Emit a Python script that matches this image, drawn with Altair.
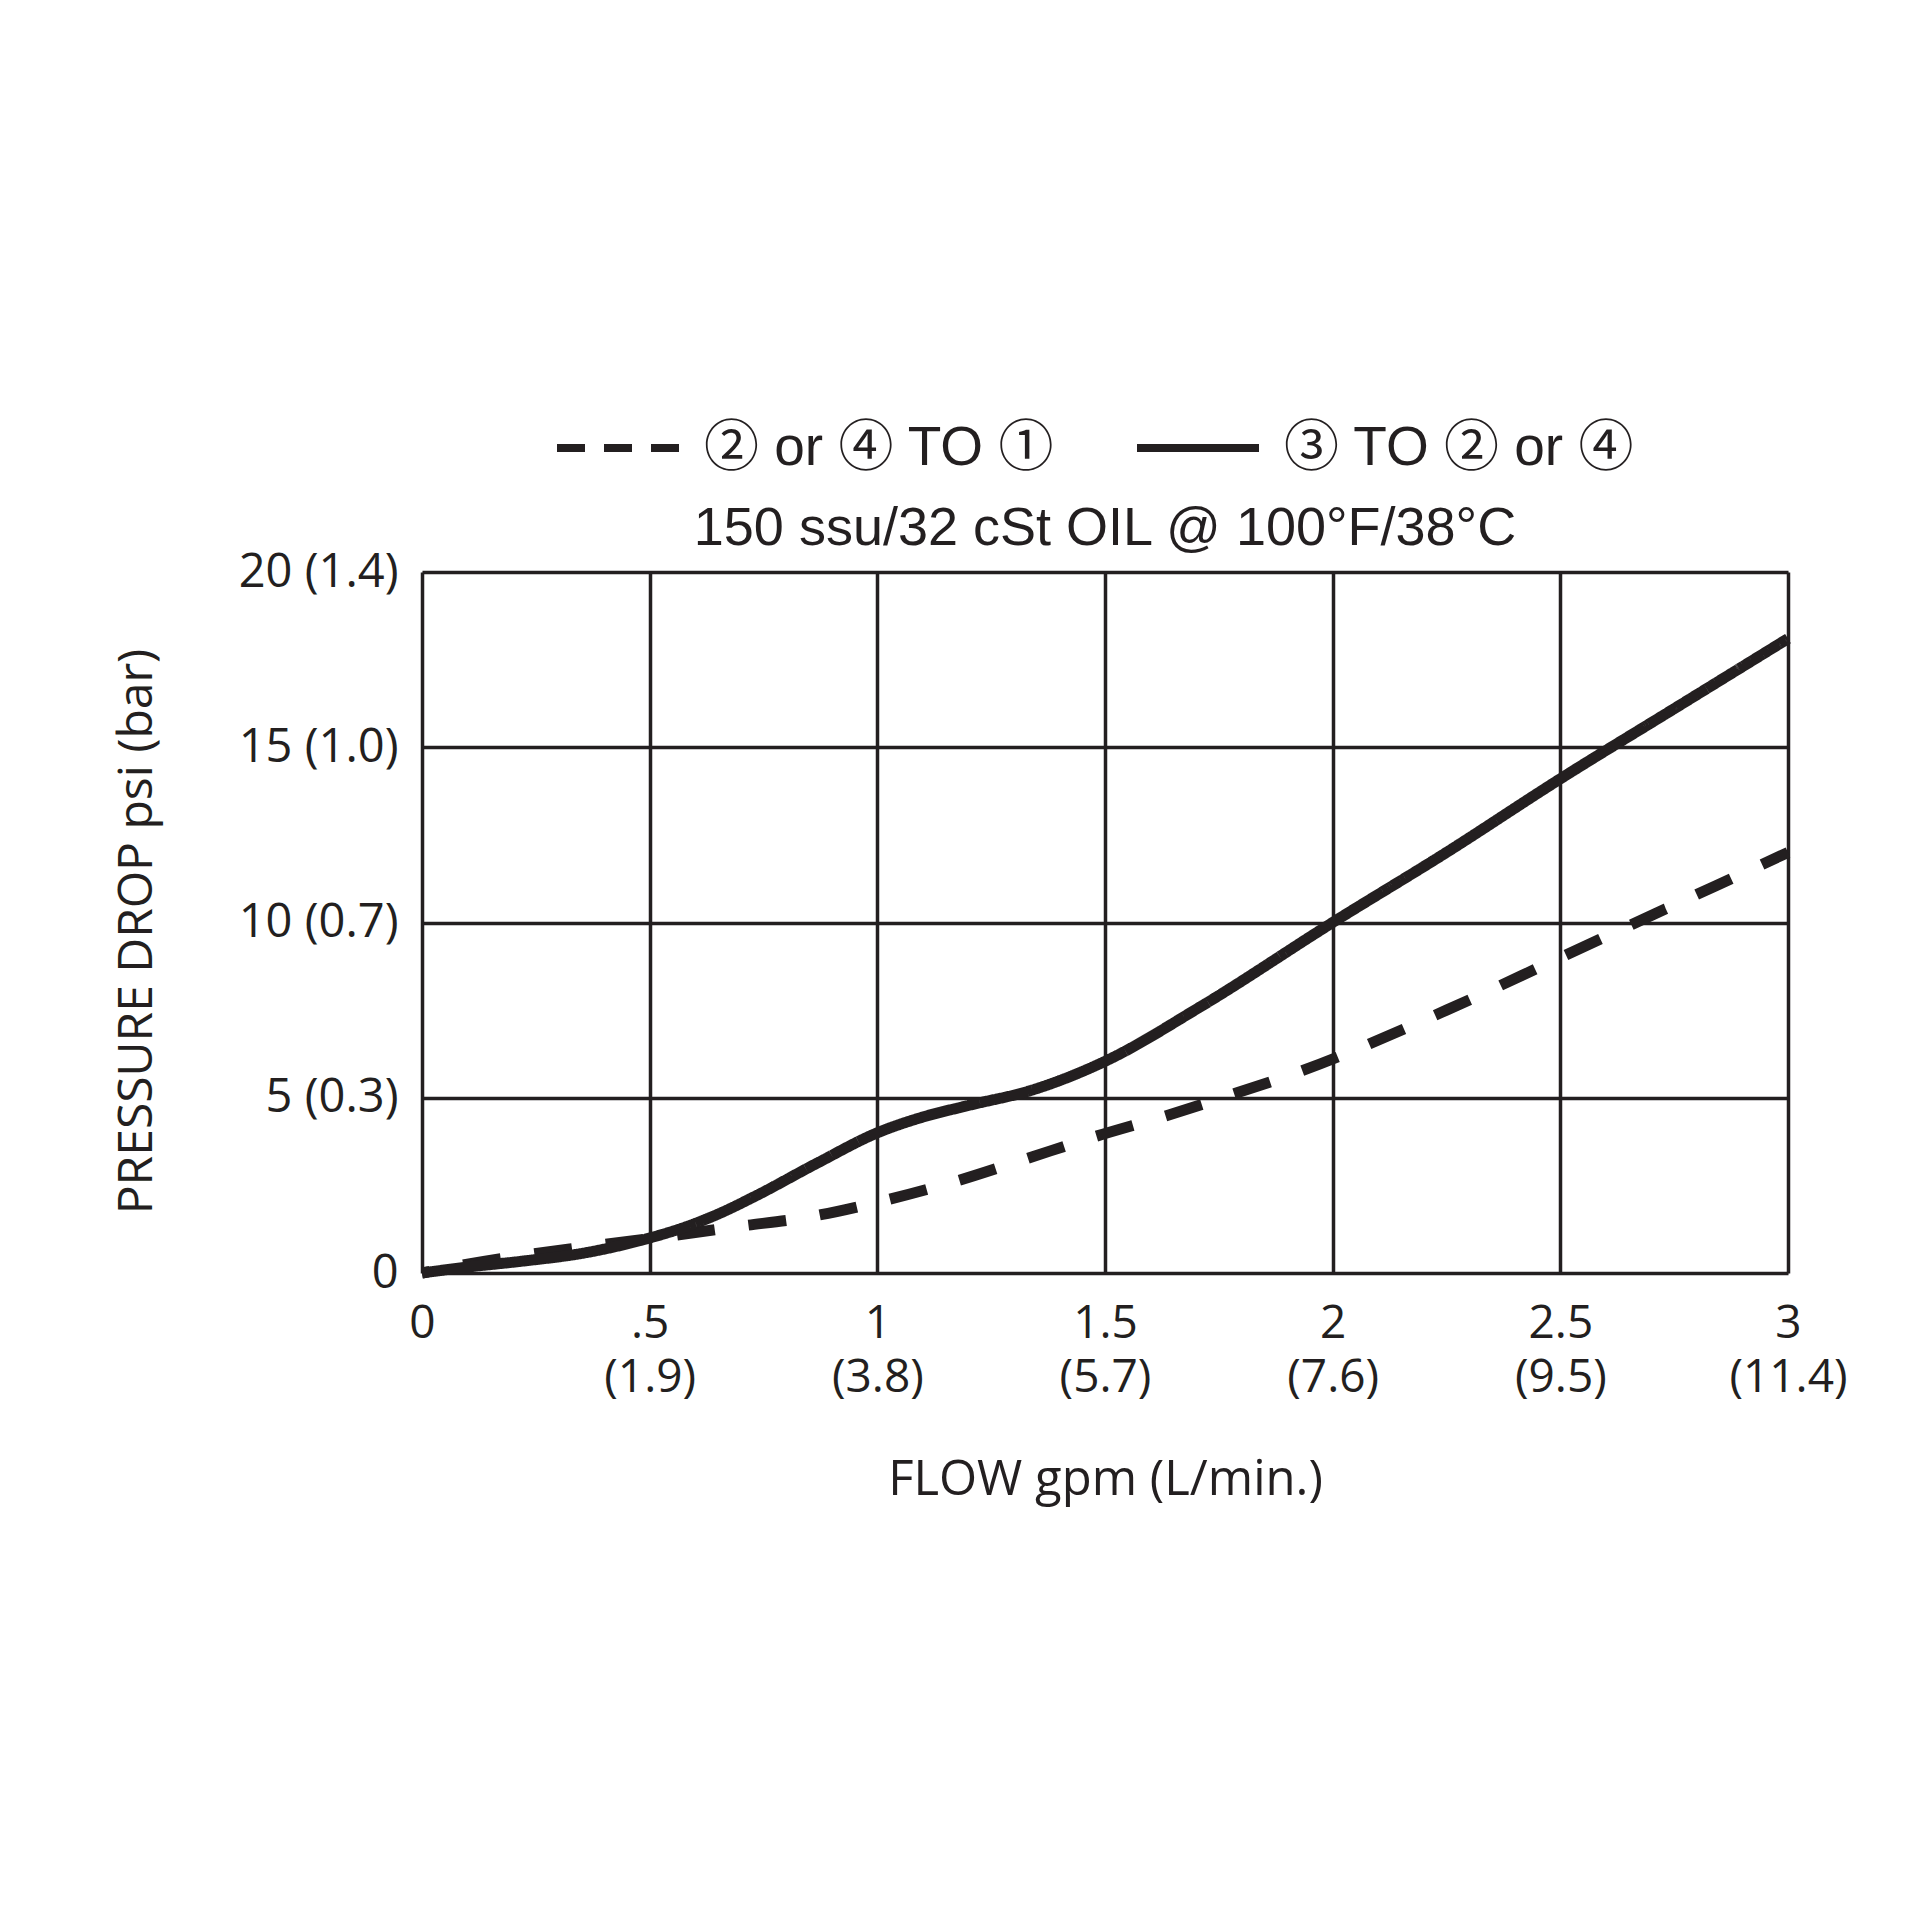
import altair as alt
import pandas as pd

# ---- data ----
series_names = ["② or ④ TO ①", "③ TO ② or ④"]

dashed_flow = [0, 0.1, 0.36, 0.56, 0.69, 0.85, 1.0, 1.17, 1.32, 1.48, 1.64, 1.79, 1.92, 2.25, 2.5, 2.75, 3.0]
dashed_psi = [0, 0.25, 0.75, 1.08, 1.32, 1.6, 2.02, 2.61, 3.23, 3.9, 4.51, 5.14, 5.71, 7.5, 9.0, 10.5, 12.0]

solid_flow = [0, 0.1, 0.215, 0.36, 0.5, 0.58, 0.65, 0.73, 0.87, 1.0, 1.1, 1.2, 1.34, 1.5, 1.71, 2.0, 2.25, 2.5, 2.75, 3.0]
solid_psi = [0, 0.17, 0.33, 0.58, 1.0, 1.32, 1.68, 2.18, 3.15, 4.0, 4.45, 4.78, 5.22, 6.04, 7.6, 10.0, 12.0, 14.1, 16.1, 18.1]

x_ticks = [0, 0.5, 1, 1.5, 2, 2.5, 3]
x_gpm_labels = ["0", ".5", "1", "1.5", "2", "2.5", "3"]
x_lpm_labels = ["", "(1.9)", "(3.8)", "(5.7)", "(7.6)", "(9.5)", "(11.4)"]

y_ticks = [0, 5, 10, 15, 20]
y_psi_labels = ["0", "5", "10", "15", "20"]
y_bar_labels = ["", "(0.3)", "(0.7)", "(1.0)", "(1.4)"]

subtitle = "150 ssu/32 cSt OIL @ 100°F/38°C"
x_title = "FLOW gpm (L/min.)"
y_title = "PRESSURE DROP psi (bar)"

# ---- table ----
rows = []
for f, p in zip(dashed_flow, dashed_psi):
    rows.append({"flow": f, "psi": p, "series": series_names[0]})
for f, p in zip(solid_flow, solid_psi):
    rows.append({"flow": f, "psi": p, "series": series_names[1]})
df = pd.DataFrame(rows)

# label expressions
def x_expr():
    parts = []
    for v, a, b in zip(x_ticks, x_gpm_labels, x_lpm_labels):
        lab = f"['{a}']" if b == "" else f"['{a}', '{b}']"
        parts.append(f"datum.value == {v} ? {lab} : ")
    return "".join(parts) + "''"

def y_expr():
    parts = []
    for v, a, b in zip(y_ticks, y_psi_labels, y_bar_labels):
        lab = f"'{a}'" if b == "" else f"'{a} {b}'"
        parts.append(f"datum.value == {v} ? {lab} : ")
    return "".join(parts) + "''"

INK = "#231f20"
W, H = 1366, 701
PAD_L, PAD_T = 422, 572

x_enc = alt.X("flow:Q", scale=alt.Scale(domain=[0, 3], nice=False),
              axis=alt.Axis(values=x_ticks, labelExpr=x_expr(), title=x_title,
                            labelFont="Open Sans", labelFontSize=46, labelColor=INK,
                            labelBaseline="top", labelLineHeight=54, labelPadding=28,
                            labelAlign="center", labelFlush=False, labelOverlap=False,
                            ticks=False, domain=False, grid=True, gridColor=INK, gridWidth=3.5, gridOpacity=1,
                            titleFont="Open Sans", titleFontSize=49, titleFontWeight="normal",
                            titleColor=INK, titleX=683, titleY=206, titleBaseline="middle",
                            titleAlign="center"))
y_enc = alt.Y("psi:Q", scale=alt.Scale(domain=[0, 20], nice=False),
              axis=alt.Axis(values=y_ticks, labelExpr=y_expr(), title=y_title,
                            labelFont="Open Sans", labelFontSize=47, labelColor=INK,
                            labelPadding=24, labelFlush=False, labelOverlap=False,
                            labelBaseline="middle",
                            ticks=False, domain=False, grid=True, gridColor=INK, gridWidth=3.5, gridOpacity=1,
                            titleFont="Open Sans", titleFontSize=48, titleFontWeight="normal",
                            titleColor=INK, titleX=-285, titleY=359, titleAngle=270,
                            titleBaseline="middle", titleAlign="center"))

curves = alt.Chart(df).mark_line(
    interpolate="monotone", color=INK, strokeCap="butt", strokeDashOffset=30
).encode(
    x=x_enc, y=y_enc,
    strokeWidth=alt.value(11),
    strokeDash=alt.StrokeDash(
        "series:N",
        scale=alt.Scale(domain=series_names, range=[[38, 34], [1, 0]]),
        legend=None,
    ),
)

# legend-only layer (no rows drawn); its dash scale gives the legend samples
legend_layer = alt.Chart(df).transform_filter("false").mark_line(
    strokeWidth=8, color=INK, strokeCap="butt"
).encode(
    x=x_enc, y=y_enc,
    strokeDash=alt.StrokeDash(
        "series:N",
        scale=alt.Scale(domain=series_names, range=[[28, 19], [1, 0]]),
        legend=alt.Legend(
            title=None, orient="none", legendX=131, legendY=-189, direction="horizontal",
            symbolType="stroke", symbolSize=14884, symbolStrokeWidth=8,
            symbolStrokeColor=INK, labelFont="Liberation Sans, Noto Sans CJK JP",
            labelFontSize=55, labelColor=INK, labelOffset=21, columnPadding=66,
            labelLimit=1000,
        ),
    ),
)

chart = alt.layer(curves, legend_layer).resolve_scale(
    strokeDash="independent"
).properties(
    width=W, height=H,
    title=alt.TitleParams(text=subtitle, font="Liberation Sans", fontSize=54,
                          fontWeight="normal", color=INK, anchor="middle", offset=22, dy=195),
    autosize=alt.AutoSizeParams(type="none"),
    padding={"left": PAD_L, "top": PAD_T, "right": 1920 - PAD_L - W, "bottom": 1920 - PAD_T - H},
).configure_view(
    stroke=INK, strokeWidth=4
).configure(background="white")

chart.save("out.html", embed_options={"renderer": "svg", "actions": False})
